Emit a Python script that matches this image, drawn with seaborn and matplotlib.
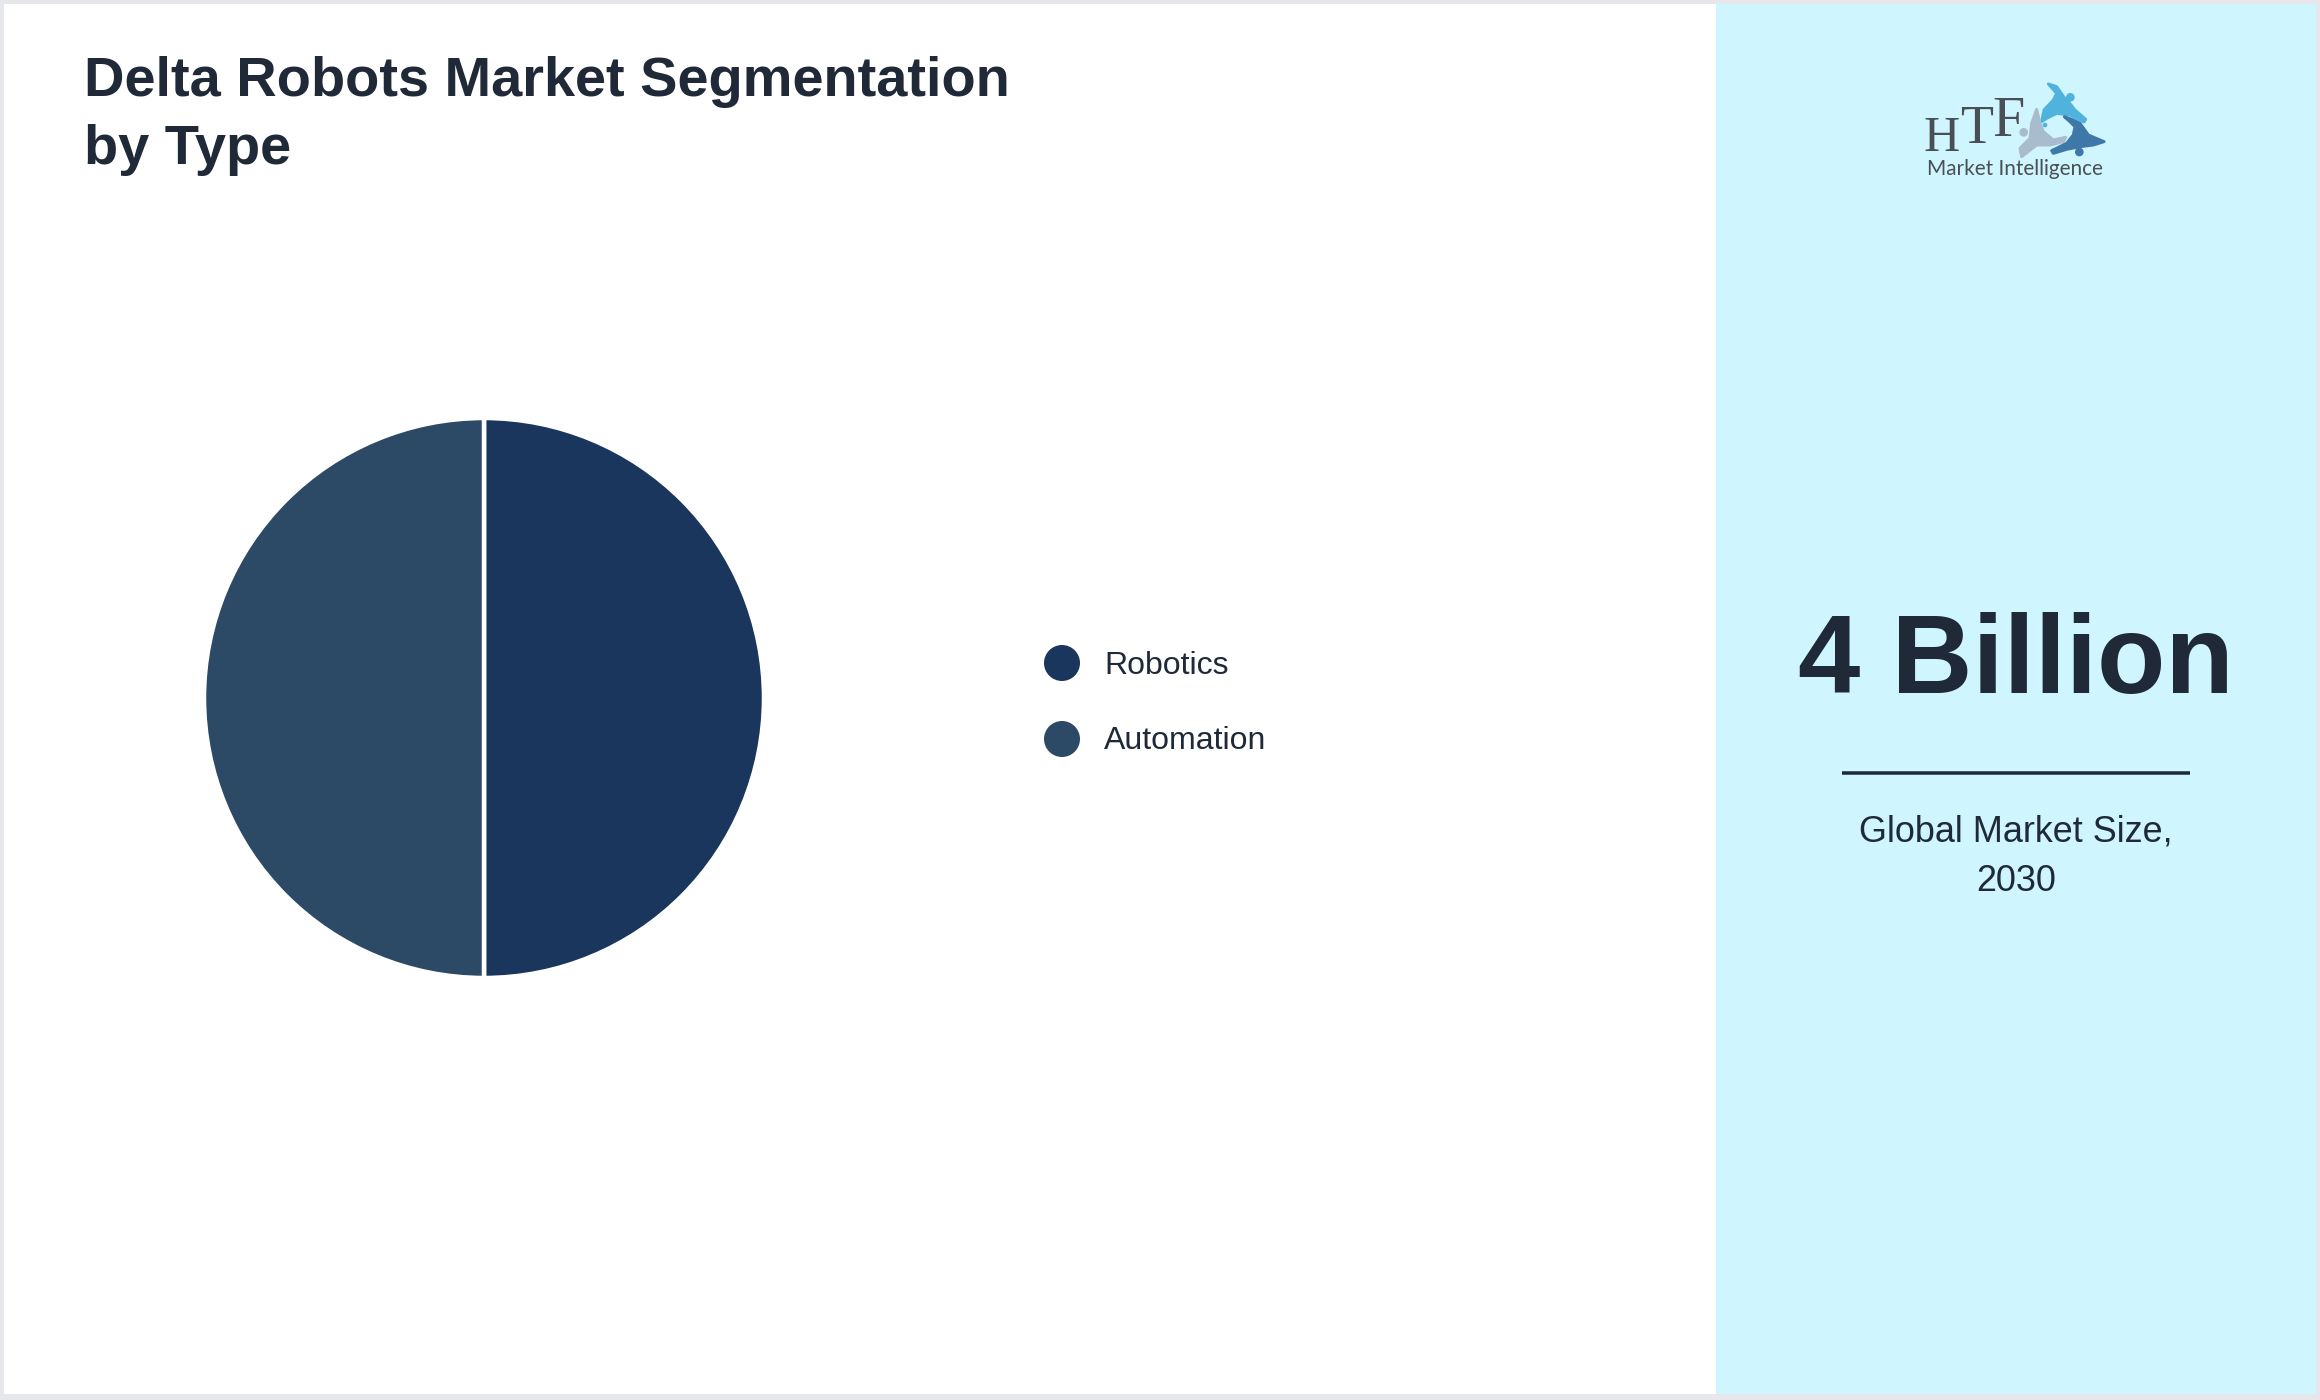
import pandas as pd
import seaborn as sns
import matplotlib.pyplot as plt
from matplotlib.patches import Rectangle, Polygon, Circle

# Chart data
segments = ['Robotics', 'Automation']
shares = [50, 50]
segment_colors = ['#1a365d', '#2c4a66']
title_lines = ['Delta Robots Market Segmentation', 'by Type']
headline = '4 Billion'
caption_lines = ['Global Market Size,', '2030']

INK = '#1f2937'
W, H = 2320, 1400
PX = 72 / 100  # points per pixel at dpi 100

sns.set_theme(style='white')
plt.rcParams['font.family'] = ['Liberation Sans', 'DejaVu Sans']

fig = plt.figure(figsize=(W / 100, H / 100), dpi=100, facecolor='white')

# Full-figure layer in pixel coordinates for the page furniture
page = fig.add_axes([0, 0, 1, 1], zorder=0)
page.set_xlim(0, W)
page.set_ylim(H, 0)
page.axis('off')
page.add_patch(Rectangle((1716, 0), W - 1716, H, fc='#cff6fe', ec='none'))
for box in [(0, 0, W, 4), (0, H - 6, W, 6), (0, 0, 4, H), (W - 4, 0, 4, H)]:
    page.add_patch(Rectangle(box[:2], box[2], box[3], fc='#e5e7eb', ec='none'))

# Title
for line, y in zip(title_lines, [96, 164]):
    page.text(84, y, line, fontsize=56 * PX, fontweight='bold', color=INK, va='baseline')

# Legend
legend_df = pd.DataFrame({'segment': segments,
                          'x': [1062] * len(segments),
                          'y': [663, 739]})
sns.scatterplot(data=legend_df, x='x', y='y', hue='segment', hue_order=segments,
                palette=segment_colors, s=(36 * PX) ** 2, linewidth=0, legend=False, ax=page)
page.set_xlabel('')
page.set_ylabel('')
for name, y in zip(segments, [674, 749]):
    page.text(1104, y, name, fontsize=32 * PX, color=INK, va='baseline')

# Right panel text
page.text(2016, 693, headline, fontsize=112 * PX, fontweight='bold', color=INK,
          ha='center', va='baseline')
page.plot([1842, 2190], [773, 773], color=INK, lw=3.5 * PX, solid_capstyle='butt')
for line, y in zip(caption_lines, [841, 891]):
    page.text(2016, y, line, fontsize=36 * PX, color=INK, ha='center', va='baseline')


# Logo (zoom coords to page pixels)
def lx(x):
    return 1880 + x / 3


def ly(y):
    return 60 + y / 3


def blob(points, color):
    page.add_patch(Polygon([(lx(x), ly(y)) for x, y in points], closed=True,
                           fc=color, ec=color, lw=3 * PX, joinstyle='round'))


def dot(x, y, r, color):
    page.add_patch(Circle((lx(x), ly(y)), r / 3, fc=color, ec='none'))


LIGHT, GREY, DARK = '#4fb3dd', '#a9bccd', '#3d78a8'
blob([(505, 72), (530, 80), (552, 112), (565, 125), (585, 150), (617, 178), (612, 186),
      (570, 165), (530, 160), (500, 175), (485, 185), (492, 150), (520, 120), (530, 100)], LIGHT)
dot(571, 112, 13, LIGHT)
dot(495, 195, 7, LIGHT)
blob([(470, 148), (480, 190), (490, 215), (520, 240), (557, 232), (550, 245), (510, 255),
      (470, 255), (425, 290), (420, 265), (450, 235), (455, 190)], GREY)
dot(431, 217, 13, GREY)
blob([(553, 170), (575, 178), (600, 190), (625, 225), (672, 245), (640, 255), (600, 260),
      (560, 268), (520, 280), (515, 272), (560, 250), (580, 225), (585, 200), (570, 185)], DARK)
dot(598, 276, 13, DARK)

LOGO = '#4a4f55'
for letter, x, y, size in [('H', 185, 272, 50), ('T', 290, 248, 54), ('F', 385, 227, 58)]:
    page.text(lx(x), ly(y), letter, fontsize=size * PX, color=LOGO, ha='center', va='baseline',
              family=['Liberation Serif', 'DejaVu Serif'])
page.text(lx(142), ly(345), 'Market Intelligence', fontsize=20.8 * PX, color=LOGO, va='baseline',
          family=['Lato', 'DejaVu Sans'])

# Pie
cx, cy, r = 484, 698, 280
ax = fig.add_axes([(cx - r) / W, 1 - (cy + r) / H, 2 * r / W, 2 * r / H], zorder=1)
ax.pie(shares, colors=segment_colors, startangle=90, counterclock=False, radius=1,
       wedgeprops={'edgecolor': 'white', 'linewidth': 4.5 * PX})
ax.set_xlim(-1, 1)
ax.set_ylim(-1, 1)

fig.savefig('out.png', dpi=100)
plt.close(fig)
